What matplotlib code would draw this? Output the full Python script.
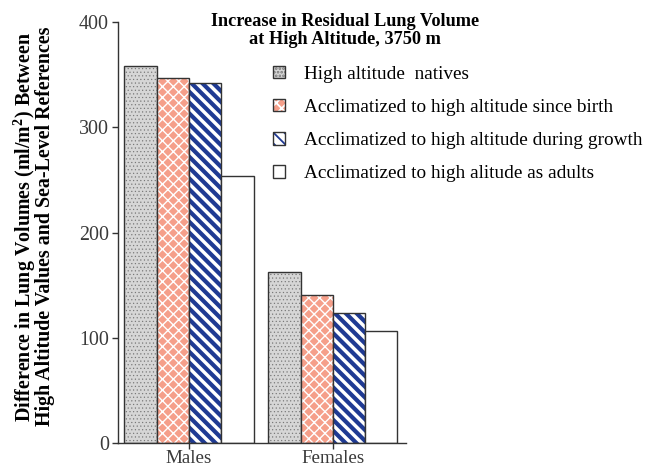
import matplotlib
matplotlib.use('Agg')
import matplotlib.pyplot as plt
import matplotlib.patches as mpatches
import numpy as np

plt.rcParams['font.family'] = ['Liberation Serif', 'DejaVu Serif']
plt.rcParams['mathtext.fontset'] = 'custom'
plt.rcParams['mathtext.rm'] = 'Liberation Serif'
plt.rcParams['mathtext.bf'] = 'Liberation Serif:bold'
plt.rcParams['hatch.linewidth'] = 1.0

# data
groups = ['Males', 'Females']
series = ['High altitude  natives',
          'Acclimatized to high altitude since birth',
          'Acclimatized to high altitude during growth',
          'Acclimatized to high alitude as adults']
natives = [358, 163]
since_birth = [347, 141]
during_growth = [342, 124]
as_adults = [254, 107]
values = [natives, since_birth, during_growth, as_adults]

DPI = 130
def px(p):
    # pixels -> points at this dpi
    return p * 72.0 / DPI

# look of each series: face, hatch colour, hatch, hatch width
styles = [
    ('#d6d6d6', '#787878', '......', px(0.6)),
    ('#f59f8a', 'white', 'xxxx', px(1.4)),
    ('white', '#1f3a93', '\\\\\\\\', px(4.2)),
    ('white', 'white', '', px(1)),
]
outline = '#333333'

fig = plt.figure(figsize=(647 / DPI, 470 / DPI), dpi=DPI)
ax = fig.add_axes([0.1824, 0.0568, 0.4451, 0.897])


def hatched(patch, hlw):
    if hasattr(patch, 'set_hatch_linewidth'):
        patch.set_hatch_linewidth(hlw)


x = np.arange(len(groups))
w = 0.224
handles = []
for i, (vals, st) in enumerate(zip(values, styles)):
    face, hcol, hatch, hlw = st
    pos = x + (i - 1.5) * w
    with plt.rc_context({'hatch.linewidth': hlw}):
        bars = ax.bar(pos, vals, w, color=face, edgecolor=hcol, hatch=hatch, linewidth=0)
        h1 = mpatches.Patch(facecolor=face, edgecolor=hcol, hatch=hatch, linewidth=0)
    for b in bars:
        hatched(b, hlw)
    hatched(h1, hlw)
    ax.bar(pos, vals, w, fill=False, edgecolor=outline, linewidth=px(1.4))
    h2 = mpatches.Patch(fill=False, edgecolor=outline, linewidth=px(1.4))
    handles.append((h1, h2))

ax.set_xlim(-0.493, 1.507)
ax.set_ylim(0, 400)
ax.set_yticks([0, 100, 200, 300, 400])
ax.set_xticks(x)
ax.set_xticklabels(groups)

for s in ['top', 'right']:
    ax.spines[s].set_visible(False)
for s in ['left', 'bottom']:
    ax.spines[s].set_color(outline)
    ax.spines[s].set_linewidth(px(1.4))
ax.tick_params(direction='out', length=px(6), width=px(1.4), color=outline,
               labelsize=px(20), labelcolor='#3a3a3a', pad=px(3))
ax.tick_params(axis='x', pad=px(1), labelsize=px(19))

ax.set_ylabel('Difference in Lung Volumes (ml/m$^{\\mathbf{2}}$) Between\n'
              'High Altitude Values and Sea-Level References',
              fontsize=px(20), fontweight='bold', labelpad=px(24), linespacing=0.78)
ax.yaxis.label.set_y(0.514)

fig.text(0.533, 0.973, 'Increase in Residual Lung Volume\nat High Altitude, 3750 m',
         ha='center', va='top', fontsize=px(18.3), fontweight='bold', linespacing=1.1)

leg = fig.legend(handles, series, loc='upper left', bbox_to_anchor=(0.410, 0.877),
                 frameon=False, fontsize=px(19.3), handlelength=0.62, handleheight=0.62,
                 handletextpad=1.0, labelspacing=0.84, borderaxespad=0)

fig.savefig('out.png', dpi=DPI)
